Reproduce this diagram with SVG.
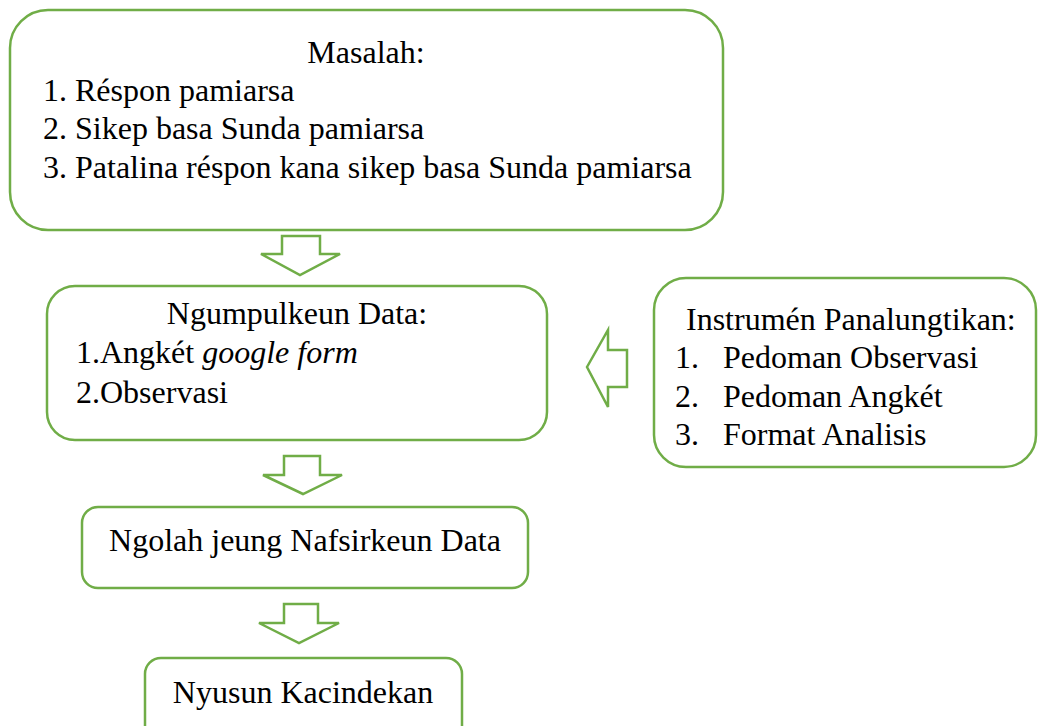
<svg xmlns="http://www.w3.org/2000/svg" width="1038" height="726" viewBox="0 0 1038 726">
<style>
.box{fill:#fff;stroke:#70AD47;stroke-width:2.5}
.arr{fill:#fff;stroke:#70AD47;stroke-width:2.5;stroke-linejoin:miter}
text{font-family:'Liberation Serif',serif;font-size:32px;fill:#000}
.c{text-anchor:middle}
</style>
<rect width="1038" height="726" fill="#fff"/>
<g id="connectors">
<polygon class="arr" points="282,236 320,236 320,254 340,254 300,275 261,254 282,254"/>
<polygon class="arr" points="284,456 320,456 320,475 342,475 303,494 263,475 284,475"/>
<polygon class="arr" points="284,604 318,604 318,623 339,623 299,643 259,623 284,623"/>
<polygon class="arr" points="587,367 608,330 608,350 627,350 627,387 608,387 608,407"/>
</g>
<g id="masalah" font-family="Liberation Serif, serif">
<rect class="box" x="10" y="10" width="713" height="220" rx="38" ry="38"/>
<text class="c" x="366" y="63">Masalah:</text>
<text x="43" y="101">1. Réspon pamiarsa</text>
<text x="43" y="139">2. Sikep basa Sunda pamiarsa</text>
<text x="43" y="178">3. Patalina réspon kana sikep basa Sunda pamiarsa</text>
</g>
<g id="ngumpulkeun">
<rect class="box" x="47" y="286" width="500" height="154" rx="28" ry="28"/>
<text class="c" x="297" y="324">Ngumpulkeun Data:</text>
<text x="76" y="363">1.Angkét <tspan font-style="italic">google form</tspan></text>
<text x="76" y="403">2.Observasi</text>
</g>
<g id="instrumen">
<rect class="box" x="654" y="278" width="382" height="189" rx="32" ry="32"/>
<text x="686" y="330">Instrumén Panalungtikan:</text>
<text x="675" y="368">1.</text><text x="723" y="368">Pedoman Observasi</text>
<text x="675" y="407">2.</text><text x="723" y="407">Pedoman Angkét</text>
<text x="675" y="445">3.</text><text x="723" y="445">Format Analisis</text>
</g>
<g id="ngolah">
<rect class="box" x="82" y="507" width="446" height="81" rx="16" ry="16"/>
<text class="c" x="305" y="551">Ngolah jeung Nafsirkeun Data</text>
</g>
<g id="nyusun">
<rect class="box" x="145" y="658" width="317" height="90" rx="16" ry="16"/>
<text class="c" x="303" y="703">Nyusun Kacindekan</text>
</g>
</svg>
